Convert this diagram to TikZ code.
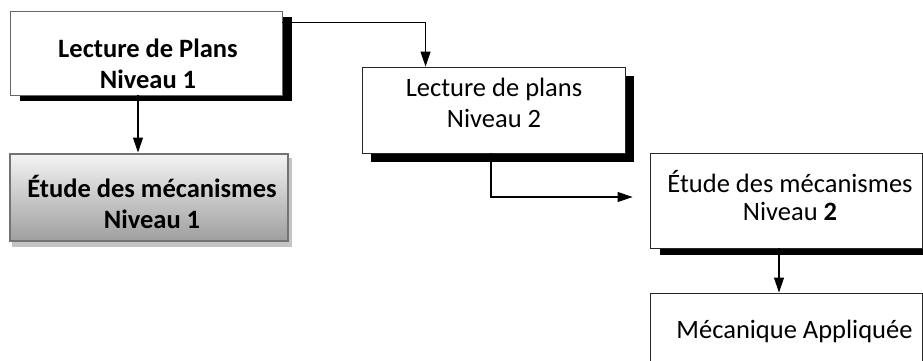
\documentclass[tikz,border=0pt]{standalone}
\usepackage{fontspec}
\setmainfont{Carlito}
\usetikzlibrary{calc,backgrounds,arrows.meta}
\definecolor{bshade}{HTML}{C4C4C4}
\begin{document}
\begin{tikzpicture}[x=1pt,y=-1pt,
  box/.style={rectangle, draw=black!85, line width=0.9pt, fill=white, inner sep=0pt},
  txt/.style={align=center, inner sep=0pt, font=\fontsize{26.5}{31}\selectfont},
  conn/.style={line width=1.1pt, -{Triangle[length=15pt,width=10pt]}},
]
\useasboundingbox (0,0) rectangle (923,360);
\clip (0,0) rectangle (923,360);

\node[box, draw=black!60, minimum width=272pt, minimum height=84pt] (A) at (146,53) {};
\node[box, draw=black!55, line width=2pt, top color=white!96!black, bottom color=black!38,
  minimum width=278pt, minimum height=87pt] (B) at (148.5,197) {};
\node[box, minimum width=263pt, minimum height=86pt] (C) at (493.5,110) {};
\node[box, minimum width=272pt, minimum height=95pt] (D) at (786,200.5) {};
\node[box, minimum width=272pt, minimum height=74pt] (E) at (786,330) {};

\node[txt] (At) at (148,63.5) {\bfseries Lecture de Plans\\\bfseries Niveau 1};
\node[txt] (Bt) at (152,202) {\bfseries Étude des mécanismes\\\bfseries Niveau 1};
\node[txt] (Ct) at (494,102.5) {Lecture de plans\\Niveau 2};
\node[txt, font=\fontsize{26.5}{28}\selectfont] (Dt) at (790,196) {Étude des mécanismes\\Niveau \textbf{2}};
\node[txt] (Et) at (794.5,331) {Mécanique Appliquée};

\begin{scope}[on background layer]
  \fill[black] ($(A.north west)+(10,6)$) rectangle ($(A.south east)+(10,6)$);
  \fill[bshade] ($(B.north west)+(3,5)$) rectangle ($(B.south east)+(3,5)$);
  \fill[black] ($(C.north west)+(9,9)$) rectangle ($(C.south east)+(9,9)$);
  \fill[black] ($(D.north west)+(10,7)$) rectangle ($(D.south east)+(10,7)$);
\end{scope}

\draw[conn] ($(A.south)+(-8,0)$) -- ($(B.north)+(-10.5,0)$);
\draw[conn] ($(A.north east)+(0,12)$) -| ($(C.north west)+(64,0)$);
\draw[conn, shorten >=17pt] ($(C.south)+(-2.5,0)$) |- ($(D.west)+(0,-3.5)$);
\draw[conn] ($(D.south)+(-7,0)$) -- ($(E.north)+(-7,0)$);
\end{tikzpicture}
\end{document}
